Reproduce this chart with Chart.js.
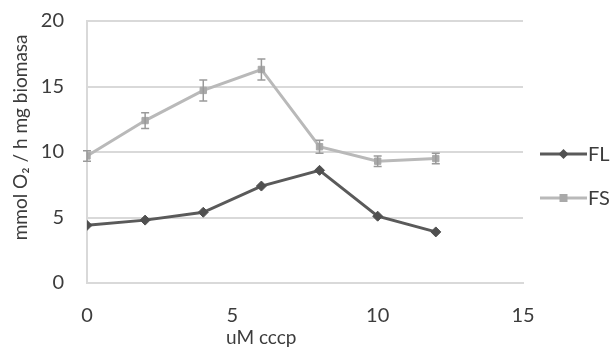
<!DOCTYPE html>
<html lang="en">
<head>
    <meta charset="utf-8" />
    <title>O2 uptake vs CCCP</title>
    <script src="https://cdn.jsdelivr.net/npm/chart.js"></script>
    <style>
        body {
            margin: 0;
            background: #fff;
        }

        .wrap {
            width: 613px;
            height: 351px;
        }
    </style>
</head>
<body>
    <div class="wrap">
        <canvas id="myChart" width="613" height="351"></canvas>
    </div>
    <script>
        // values
        const cccp = [0, 2, 4, 6, 8, 10, 12];
        const flValues = [4.4, 4.8, 5.4, 7.4, 8.6, 5.1, 3.9];
        const fsValues = [9.7, 12.4, 14.7, 16.3, 10.4, 9.3, 9.5];
        const fsErrors = [0.4, 0.6, 0.8, 0.8, 0.5, 0.4, 0.4];
        const seriesNames = ['FL', 'FS'];
        const xTicks = [0, 5, 10, 15];
        const yTicks = [0, 5, 10, 15, 20];

        const flColor = '#5a5a5a';
        const fsColor = '#b9b9b9';
        const fsMarker = '#a9a9a9';
        const textColor = '#3c3c3c';
        const gridColor = '#d9d9d9';
        const font = 'Lato, "Open Sans", sans-serif';

        const toPoints = (vals) => vals.map((v, i) => ({ x: cccp[i], y: v }));

        // error bars for FS, drawn through the chart scales
        const errorBars = {
            id: 'errorBars',
            afterDatasetsDraw(chart) {
                const { ctx, scales: { x, y } } = chart;
                ctx.save();
                ctx.strokeStyle = '#9a9a9a';
                ctx.lineWidth = 1.5;
                fsValues.forEach((v, i) => {
                    const px = x.getPixelForValue(cccp[i]);
                    const top = y.getPixelForValue(v + fsErrors[i]);
                    const bot = y.getPixelForValue(v - fsErrors[i]);
                    ctx.beginPath();
                    ctx.moveTo(px, top);
                    ctx.lineTo(px, bot);
                    ctx.moveTo(px - 4, top);
                    ctx.lineTo(px + 4, top);
                    ctx.moveTo(px - 4, bot);
                    ctx.lineTo(px + 4, bot);
                    ctx.stroke();
                });
                ctx.restore();
            }
        };

        // legend on the right: line with marker, then the name
        const sideLegend = {
            id: 'sideLegend',
            afterDraw(chart) {
                const { ctx, chartArea } = chart;
                ctx.save();
                chart.data.datasets.forEach((ds, i) => {
                    const yy = chartArea.top + 133 + i * 44;
                    const x0 = chartArea.right + 17;
                    const x1 = chartArea.right + 64;
                    ctx.strokeStyle = ds.borderColor;
                    ctx.lineWidth = 3;
                    ctx.beginPath();
                    ctx.moveTo(x0, yy);
                    ctx.lineTo(x1, yy);
                    ctx.stroke();
                    const mx = (x0 + x1) / 2;
                    ctx.fillStyle = ds.pointBackgroundColor;
                    ctx.beginPath();
                    if (ds.pointStyle === 'rectRot') {
                        ctx.moveTo(mx, yy - 5);
                        ctx.lineTo(mx + 5, yy);
                        ctx.lineTo(mx, yy + 5);
                        ctx.lineTo(mx - 5, yy);
                        ctx.closePath();
                    } else {
                        ctx.rect(mx - 4, yy - 4, 8, 8);
                    }
                    ctx.fill();
                    ctx.fillStyle = textColor;
                    ctx.font = '20px ' + font;
                    ctx.textBaseline = 'middle';
                    ctx.textAlign = 'left';
                    ctx.fillText(ds.label, x1 + 1, yy + 1);
                });
                ctx.restore();
            }
        };

        const ctx = document.getElementById('myChart').getContext('2d');
        const myChart = new Chart(ctx, {
            type: 'scatter',
            data: {
                datasets: [{
                    label: seriesNames[0],
                    data: toPoints(flValues),
                    showLine: true,
                    borderColor: flColor,
                    borderWidth: 3,
                    pointStyle: 'rectRot',
                    pointRadius: 5,
                    pointBackgroundColor: '#505050',
                    pointBorderColor: '#505050',
                    pointBorderWidth: 1
                }, {
                    label: seriesNames[1],
                    data: toPoints(fsValues),
                    showLine: true,
                    borderColor: fsColor,
                    borderWidth: 3,
                    pointStyle: 'rect',
                    pointRadius: 4.5,
                    pointBackgroundColor: fsMarker,
                    pointBorderColor: fsMarker,
                    pointBorderWidth: 1
                }]
            },
            options: {
                responsive: false,
                animation: false,
                layout: {
                    padding: { left: 0, right: 90, top: 21, bottom: 0 }
                },
                plugins: {
                    legend: { display: false },
                    tooltip: { enabled: false }
                },
                scales: {
                    x: {
                        type: 'linear',
                        min: 0,
                        max: 15,
                        afterBuildTicks: (scale) => {
                            scale.ticks = xTicks.map(v => ({ value: v }));
                        },
                        afterFit: (scale) => {
                            scale.height = 68;
                        },
                        grid: { display: false },
                        border: { display: true, color: gridColor, width: 2 },
                        ticks: {
                            padding: 13,
                            color: textColor,
                            font: { family: font, size: 20 }
                        },
                        title: {
                            display: true,
                            text: 'uM cccp                  ',
                            color: textColor,
                            font: { family: font, size: 19 },
                            padding: { top: 0, bottom: 2 }
                        }
                    },
                    y: {
                        min: 0,
                        max: 20,
                        afterBuildTicks: (scale) => {
                            scale.ticks = yTicks.map(v => ({ value: v }));
                        },
                        afterFit: (scale) => {
                            scale.width = 87;
                            scale.paddingTop = 0;
                            scale.paddingBottom = 0;
                        },
                        grid: {
                            color: gridColor,
                            lineWidth: 2,
                            drawTicks: false
                        },
                        border: { display: true, color: gridColor, width: 2 },
                        ticks: {
                            padding: 23,
                            color: textColor,
                            font: { family: font, size: 20 }
                        },
                        title: {
                            display: true,
                            text: '      mmol O₂ / h mg biomasa',
                            color: textColor,
                            font: { family: font, size: 19 },
                            padding: { top: 9, bottom: 0 }
                        }
                    }
                }
            },
            plugins: [errorBars, sideLegend]
        });
    </script>
</body>
</html>
